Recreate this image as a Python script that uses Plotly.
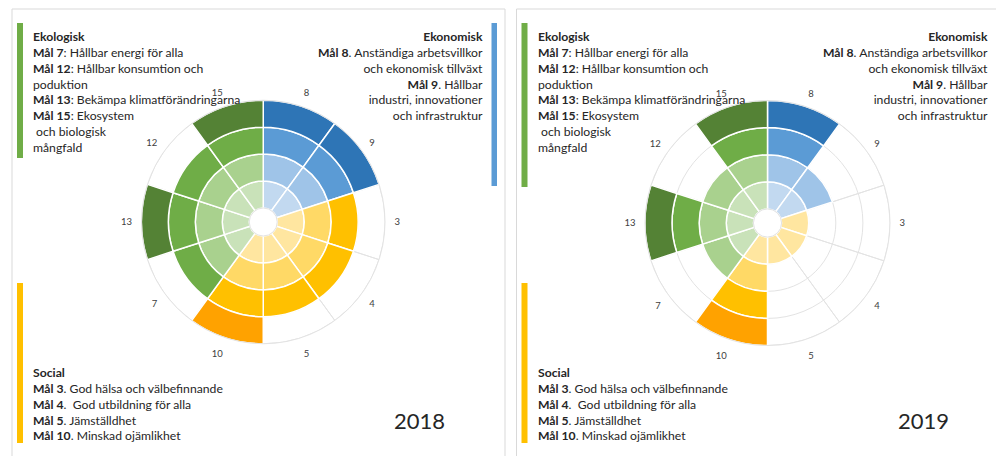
import plotly.graph_objects as go

# The page body has an 8px margin, so the figure is drawn 8px in from the window edge.
PAGE_W, PAGE_H = 1004, 456
PAD = 8
W, H = PAGE_W - PAD, PAGE_H - PAD

# Sector labels (clockwise from 12 o'clock) and which group each belongs to
sectors = ["8", "9", "3", "4", "5", "10", "7", "13", "12", "15"]
groups = ["eko", "eko", "soc", "soc", "soc", "soc", "env", "env", "env", "env"]

# Number of filled rings per sector
levels_2018 = [4, 4, 3, 3, 3, 4, 3, 4, 3, 4]
levels_2019 = [4, 2, 1, 1, 1, 4, 2, 4, 2, 4]
max_level = 4

# Ring colours, innermost -> outermost
palette = {
    "eko": ["#c2d9f0", "#9fc4e8", "#5b9bd5", "#2e75b6"],
    "soc": ["#ffe6a0", "#ffd966", "#ffc000", "#ffa200"],
    "env": ["#c9e2b9", "#a9d18e", "#6fad47", "#548235"],
}

eco_text = ["<b>Ekologisk</b>",
            "<b>Mål 7</b>: Hållbar energi för alla",
            "<b>Mål 12</b>: Hållbar konsumtion och",
            "poduktion",
            "<b>Mål 13</b>: Bekämpa klimatförändringarna",
            "<b>Mål 15</b>: Ekosystem",
            "\u00a0och biologisk",
            "mångfald"]
econ_text = ["<b>Ekonomisk</b>",
             "<b>Mål 8</b>. Anständiga arbetsvillkor",
             "och ekonomisk tillväxt",
             "<b>Mål 9</b>. Hållbar",
             "industri, innovationer",
             "och infrastruktur"]
soc_text = ["<b>Social</b>",
            "<b>Mål 3</b>. God hälsa och välbefinnande",
            "<b>Mål 4</b>.\u00a0 God utbildning för alla",
            "<b>Mål 5</b>. Jämställdhet",
            "<b>Mål 10</b>. Minskad ojämlikhet"]

years = ["2018", "2019"]
panel_levels = [levels_2018, levels_2019]

FONT = "Lato, 'Open Sans', sans-serif"
TXT = "#262626"
GRID = "#e3e3e3"

theta = [36 * i + 18 for i in range(len(sectors))]


def px(x):
    # window pixel -> paper x
    return (x - PAD) / W


def py(y):
    # window pixel -> paper y
    return 1 - (y - PAD) / H


fig = go.Figure()
shapes = []
annotations = []

for p, (year, lv) in enumerate(zip(years, panel_levels)):
    sub = "polar" if p == 0 else "polar2"
    off = 0 if p == 0 else 504.5

    # background sectors -> radial grid lines and outer arc
    fig.add_trace(go.Barpolar(
        r=[max_level] * len(sectors), base=0, theta=theta, width=36,
        marker=dict(color="rgba(0,0,0,0)", line=dict(color=GRID, width=1)),
        hoverinfo="skip", subplot=sub,
    ))
    for k in range(1, max_level + 1):
        th, cols = [], []
        for s, g, v in zip(theta, groups, lv):
            if v >= k:
                th.append(s)
                cols.append(palette[g][k - 1])
        fig.add_trace(go.Barpolar(
            r=[1] * len(th), base=k - 1, theta=th, width=36,
            marker=dict(color=cols, line=dict(color="white", width=1.5)),
            subplot=sub, name=f"nivå {k}",
        ))

    if p == 0:
        dom = dict(x=[px(141.5), px(385)], y=[py(344), py(100)])
    else:
        dom = dict(x=[px(645), px(890)], y=[py(346.5), py(99.5)])

    fig.update_layout(**{sub: dict(
        domain=dom,
        hole=0.115,
        barmode="overlay",
        bgcolor="white",
        radialaxis=dict(range=[0, max_level], tickvals=[1, 2, 3, 4],
                        showticklabels=False, ticks="", showline=False,
                        gridcolor=GRID, gridwidth=1),
        angularaxis=dict(direction="clockwise", rotation=90,
                         tickmode="array", tickvals=theta, ticktext=sectors,
                         showgrid=False, showline=True, linecolor=GRID,
                         linewidth=1, ticks="outside", ticklen=7,
                         tickcolor="rgba(0,0,0,0)",
                         tickfont=dict(family=FONT, size=9.5, color="#404040")),
    )})

    # panel frame
    shapes.append(dict(type="rect", xref="paper", yref="paper",
                       x0=px(12 + off), x1=px(505 + off), y0=py(470), y1=py(9),
                       line=dict(color="#d9d9d9", width=1), fillcolor="rgba(0,0,0,0)"))
    # coloured side bars
    left_top = 23
    green_bottom = 158 if p == 0 else 187
    shapes.append(dict(type="rect", xref="paper", yref="paper",
                       x0=px(17 + off), x1=px(23 + off), y0=py(green_bottom), y1=py(left_top),
                       line=dict(width=0), fillcolor="#70ad47"))
    shapes.append(dict(type="rect", xref="paper", yref="paper",
                       x0=px(17 + off), x1=px(23 + off), y0=py(443), y1=py(283),
                       line=dict(width=0), fillcolor="#ffc000"))
    shapes.append(dict(type="rect", xref="paper", yref="paper",
                       x0=px(491.5 + off), x1=px(497 + off), y0=py(186), y1=py(left_top),
                       line=dict(width=0), fillcolor="#5b9bd5"))

    annotations.append(dict(text="<br>".join(eco_text), xref="paper", yref="paper",
                            x=px(31 + off), y=py(27), xanchor="left", yanchor="top",
                            align="left", showarrow=False,
                            font=dict(family=FONT, size=12.2, color=TXT)))
    annotations.append(dict(text="<br>".join(econ_text), xref="paper", yref="paper",
                            x=px(485 + off), y=py(27), xanchor="right", yanchor="top",
                            align="right", showarrow=False,
                            font=dict(family=FONT, size=12.2, color=TXT)))
    annotations.append(dict(text="<br>".join(soc_text), xref="paper", yref="paper",
                            x=px(31 + off), y=py(363), xanchor="left", yanchor="top",
                            align="left", showarrow=False,
                            font=dict(family=FONT, size=12.2, color=TXT)))
    annotations.append(dict(text=year, xref="paper", yref="paper",
                            x=px(419 + off), y=py(420), xanchor="center", yanchor="middle",
                            showarrow=False,
                            font=dict(family=FONT, size=22, color=TXT)))

fig.update_layout(
    width=W, height=H,
    margin=dict(l=0, r=0, t=0, b=0),
    paper_bgcolor="white",
    showlegend=False,
    shapes=shapes,
    annotations=annotations,
)

fig.write_html("out.html")
